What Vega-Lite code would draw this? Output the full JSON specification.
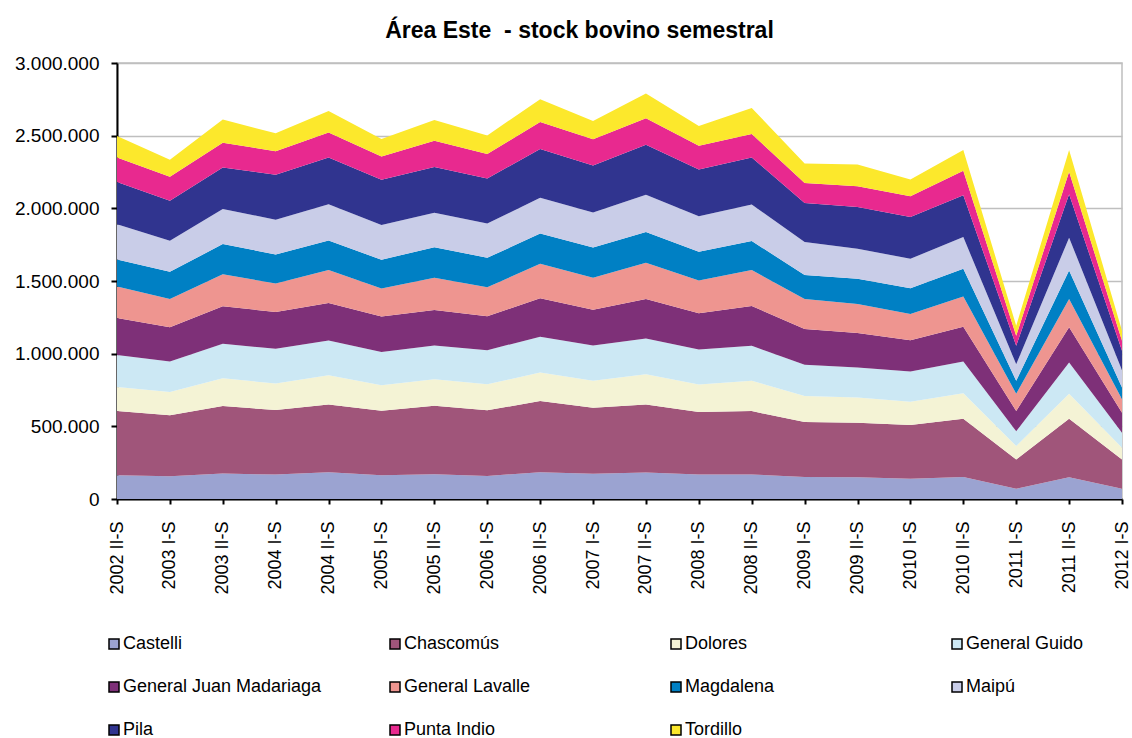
{
  "$schema": "https://vega.github.io/schema/vega-lite/v6.json",
  "autosize": {"type": "none"},
  "width": 1005,
  "height": 436,
  "padding": {"left": 117, "top": 63, "right": 10, "bottom": 239},
  "background": "white",
  "title": {
    "text": "Área Este \u00a0- stock bovino semestral",
    "font": "Liberation Sans",
    "fontSize": 23,
    "fontWeight": "bold",
    "color": "black",
    "anchor": "middle",
    "frame": "group",
    "dx": -40,
    "baseline": "alphabetic",
    "offset": -7
  },
  "config": {
    "locale": {"number": {"decimal": ",", "thousands": ".", "grouping": [3], "currency": ["$", ""]}},
    "view": {"stroke": "#BFBFBF", "strokeWidth": 1.5},
    "font": "Liberation Sans"
  },
  "data": {
    "values": [
      {"s":"2002 II-S","d":"Castelli","v":163000},{"s":"2002 II-S","d":"Chascomús","v":442000},{"s":"2002 II-S","d":"Dolores","v":166000},{"s":"2002 II-S","d":"General Guido","v":219000},{"s":"2002 II-S","d":"General Juan Madariaga","v":255000},{"s":"2002 II-S","d":"General Lavalle","v":217000},{"s":"2002 II-S","d":"Magdalena","v":186000},{"s":"2002 II-S","d":"Maipú","v":242000},{"s":"2002 II-S","d":"Pila","v":292000},{"s":"2002 II-S","d":"Punta Indio","v":168000},{"s":"2002 II-S","d":"Tordillo","v":148000},
      {"s":"2003 I-S","d":"Castelli","v":157000},{"s":"2003 I-S","d":"Chascomús","v":419000},{"s":"2003 I-S","d":"Dolores","v":161000},{"s":"2003 I-S","d":"General Guido","v":209000},{"s":"2003 I-S","d":"General Juan Madariaga","v":235000},{"s":"2003 I-S","d":"General Lavalle","v":196000},{"s":"2003 I-S","d":"Magdalena","v":186000},{"s":"2003 I-S","d":"Maipú","v":214000},{"s":"2003 I-S","d":"Pila","v":276000},{"s":"2003 I-S","d":"Punta Indio","v":164000},{"s":"2003 I-S","d":"Tordillo","v":117000},
      {"s":"2003 II-S","d":"Castelli","v":175000},{"s":"2003 II-S","d":"Chascomús","v":465000},{"s":"2003 II-S","d":"Dolores","v":191000},{"s":"2003 II-S","d":"General Guido","v":237000},{"s":"2003 II-S","d":"General Juan Madariaga","v":258000},{"s":"2003 II-S","d":"General Lavalle","v":221000},{"s":"2003 II-S","d":"Magdalena","v":207000},{"s":"2003 II-S","d":"Maipú","v":242000},{"s":"2003 II-S","d":"Pila","v":285000},{"s":"2003 II-S","d":"Punta Indio","v":171000},{"s":"2003 II-S","d":"Tordillo","v":159000},
      {"s":"2004 I-S","d":"Castelli","v":168000},{"s":"2004 I-S","d":"Chascomús","v":444000},{"s":"2004 I-S","d":"Dolores","v":182000},{"s":"2004 I-S","d":"General Guido","v":240000},{"s":"2004 I-S","d":"General Juan Madariaga","v":253000},{"s":"2004 I-S","d":"General Lavalle","v":196000},{"s":"2004 I-S","d":"Magdalena","v":200000},{"s":"2004 I-S","d":"Maipú","v":239000},{"s":"2004 I-S","d":"Pila","v":309000},{"s":"2004 I-S","d":"Punta Indio","v":161000},{"s":"2004 I-S","d":"Tordillo","v":124000},
      {"s":"2004 II-S","d":"Castelli","v":184000},{"s":"2004 II-S","d":"Chascomús","v":467000},{"s":"2004 II-S","d":"Dolores","v":201000},{"s":"2004 II-S","d":"General Guido","v":239000},{"s":"2004 II-S","d":"General Juan Madariaga","v":258000},{"s":"2004 II-S","d":"General Lavalle","v":226000},{"s":"2004 II-S","d":"Magdalena","v":204000},{"s":"2004 II-S","d":"Maipú","v":249000},{"s":"2004 II-S","d":"Pila","v":322000},{"s":"2004 II-S","d":"Punta Indio","v":171000},{"s":"2004 II-S","d":"Tordillo","v":149000},
      {"s":"2005 I-S","d":"Castelli","v":163000},{"s":"2005 I-S","d":"Chascomús","v":445000},{"s":"2005 I-S","d":"Dolores","v":175000},{"s":"2005 I-S","d":"General Guido","v":228000},{"s":"2005 I-S","d":"General Juan Madariaga","v":244000},{"s":"2005 I-S","d":"General Lavalle","v":193000},{"s":"2005 I-S","d":"Magdalena","v":198000},{"s":"2005 I-S","d":"Maipú","v":239000},{"s":"2005 I-S","d":"Pila","v":311000},{"s":"2005 I-S","d":"Punta Indio","v":161000},{"s":"2005 I-S","d":"Tordillo","v":120000},
      {"s":"2005 II-S","d":"Castelli","v":170000},{"s":"2005 II-S","d":"Chascomús","v":472000},{"s":"2005 II-S","d":"Dolores","v":182000},{"s":"2005 II-S","d":"General Guido","v":233000},{"s":"2005 II-S","d":"General Juan Madariaga","v":244000},{"s":"2005 II-S","d":"General Lavalle","v":221000},{"s":"2005 II-S","d":"Magdalena","v":211000},{"s":"2005 II-S","d":"Maipú","v":237000},{"s":"2005 II-S","d":"Pila","v":314000},{"s":"2005 II-S","d":"Punta Indio","v":181000},{"s":"2005 II-S","d":"Tordillo","v":143000},
      {"s":"2006 I-S","d":"Castelli","v":159000},{"s":"2006 I-S","d":"Chascomús","v":451000},{"s":"2006 I-S","d":"Dolores","v":180000},{"s":"2006 I-S","d":"General Guido","v":234000},{"s":"2006 I-S","d":"General Juan Madariaga","v":233000},{"s":"2006 I-S","d":"General Lavalle","v":200000},{"s":"2006 I-S","d":"Magdalena","v":203000},{"s":"2006 I-S","d":"Maipú","v":235000},{"s":"2006 I-S","d":"Pila","v":310000},{"s":"2006 I-S","d":"Punta Indio","v":168000},{"s":"2006 I-S","d":"Tordillo","v":129000},
      {"s":"2006 II-S","d":"Castelli","v":184000},{"s":"2006 II-S","d":"Chascomús","v":490000},{"s":"2006 II-S","d":"Dolores","v":196000},{"s":"2006 II-S","d":"General Guido","v":247000},{"s":"2006 II-S","d":"General Juan Madariaga","v":264000},{"s":"2006 II-S","d":"General Lavalle","v":237000},{"s":"2006 II-S","d":"Magdalena","v":208000},{"s":"2006 II-S","d":"Maipú","v":246000},{"s":"2006 II-S","d":"Pila","v":336000},{"s":"2006 II-S","d":"Punta Indio","v":186000},{"s":"2006 II-S","d":"Tordillo","v":157000},
      {"s":"2007 I-S","d":"Castelli","v":173000},{"s":"2007 I-S","d":"Chascomús","v":455000},{"s":"2007 I-S","d":"Dolores","v":185000},{"s":"2007 I-S","d":"General Guido","v":244000},{"s":"2007 I-S","d":"General Juan Madariaga","v":246000},{"s":"2007 I-S","d":"General Lavalle","v":219000},{"s":"2007 I-S","d":"Magdalena","v":209000},{"s":"2007 I-S","d":"Maipú","v":240000},{"s":"2007 I-S","d":"Pila","v":324000},{"s":"2007 I-S","d":"Punta Indio","v":180000},{"s":"2007 I-S","d":"Tordillo","v":126000},
      {"s":"2007 II-S","d":"Castelli","v":182000},{"s":"2007 II-S","d":"Chascomús","v":469000},{"s":"2007 II-S","d":"Dolores","v":208000},{"s":"2007 II-S","d":"General Guido","v":246000},{"s":"2007 II-S","d":"General Juan Madariaga","v":272000},{"s":"2007 II-S","d":"General Lavalle","v":248000},{"s":"2007 II-S","d":"Magdalena","v":212000},{"s":"2007 II-S","d":"Maipú","v":256000},{"s":"2007 II-S","d":"Pila","v":345000},{"s":"2007 II-S","d":"Punta Indio","v":182000},{"s":"2007 II-S","d":"Tordillo","v":170000},
      {"s":"2008 I-S","d":"Castelli","v":168000},{"s":"2008 I-S","d":"Chascomús","v":431000},{"s":"2008 I-S","d":"Dolores","v":188000},{"s":"2008 I-S","d":"General Guido","v":242000},{"s":"2008 I-S","d":"General Juan Madariaga","v":249000},{"s":"2008 I-S","d":"General Lavalle","v":225000},{"s":"2008 I-S","d":"Magdalena","v":198000},{"s":"2008 I-S","d":"Maipú","v":244000},{"s":"2008 I-S","d":"Pila","v":322000},{"s":"2008 I-S","d":"Punta Indio","v":164000},{"s":"2008 I-S","d":"Tordillo","v":136000},
      {"s":"2008 II-S","d":"Castelli","v":168000},{"s":"2008 II-S","d":"Chascomús","v":437000},{"s":"2008 II-S","d":"Dolores","v":208000},{"s":"2008 II-S","d":"General Guido","v":241000},{"s":"2008 II-S","d":"General Juan Madariaga","v":274000},{"s":"2008 II-S","d":"General Lavalle","v":247000},{"s":"2008 II-S","d":"Magdalena","v":200000},{"s":"2008 II-S","d":"Maipú","v":251000},{"s":"2008 II-S","d":"Pila","v":324000},{"s":"2008 II-S","d":"Punta Indio","v":162000},{"s":"2008 II-S","d":"Tordillo","v":179000},
      {"s":"2009 I-S","d":"Castelli","v":152000},{"s":"2009 I-S","d":"Chascomús","v":377000},{"s":"2009 I-S","d":"Dolores","v":180000},{"s":"2009 I-S","d":"General Guido","v":214000},{"s":"2009 I-S","d":"General Juan Madariaga","v":246000},{"s":"2009 I-S","d":"General Lavalle","v":208000},{"s":"2009 I-S","d":"Magdalena","v":165000},{"s":"2009 I-S","d":"Maipú","v":226000},{"s":"2009 I-S","d":"Pila","v":269000},{"s":"2009 I-S","d":"Punta Indio","v":138000},{"s":"2009 I-S","d":"Tordillo","v":134000},
      {"s":"2009 II-S","d":"Castelli","v":150000},{"s":"2009 II-S","d":"Chascomús","v":375000},{"s":"2009 II-S","d":"Dolores","v":173000},{"s":"2009 II-S","d":"General Guido","v":207000},{"s":"2009 II-S","d":"General Juan Madariaga","v":237000},{"s":"2009 II-S","d":"General Lavalle","v":200000},{"s":"2009 II-S","d":"Magdalena","v":173000},{"s":"2009 II-S","d":"Maipú","v":207000},{"s":"2009 II-S","d":"Pila","v":288000},{"s":"2009 II-S","d":"Punta Indio","v":142000},{"s":"2009 II-S","d":"Tordillo","v":150000},
      {"s":"2010 I-S","d":"Castelli","v":140000},{"s":"2010 I-S","d":"Chascomús","v":369000},{"s":"2010 I-S","d":"Dolores","v":161000},{"s":"2010 I-S","d":"General Guido","v":207000},{"s":"2010 I-S","d":"General Juan Madariaga","v":216000},{"s":"2010 I-S","d":"General Lavalle","v":180000},{"s":"2010 I-S","d":"Magdalena","v":177000},{"s":"2010 I-S","d":"Maipú","v":203000},{"s":"2010 I-S","d":"Pila","v":288000},{"s":"2010 I-S","d":"Punta Indio","v":142000},{"s":"2010 I-S","d":"Tordillo","v":115000},
      {"s":"2010 II-S","d":"Castelli","v":152000},{"s":"2010 II-S","d":"Chascomús","v":400000},{"s":"2010 II-S","d":"Dolores","v":175000},{"s":"2010 II-S","d":"General Guido","v":219000},{"s":"2010 II-S","d":"General Juan Madariaga","v":240000},{"s":"2010 II-S","d":"General Lavalle","v":207000},{"s":"2010 II-S","d":"Magdalena","v":191000},{"s":"2010 II-S","d":"Maipú","v":218000},{"s":"2010 II-S","d":"Pila","v":288000},{"s":"2010 II-S","d":"Punta Indio","v":168000},{"s":"2010 II-S","d":"Tordillo","v":143000},
      {"s":"2011 I-S","d":"Castelli","v":71000},{"s":"2011 I-S","d":"Chascomús","v":201000},{"s":"2011 I-S","d":"Dolores","v":92000},{"s":"2011 I-S","d":"General Guido","v":103000},{"s":"2011 I-S","d":"General Juan Madariaga","v":138000},{"s":"2011 I-S","d":"General Lavalle","v":120000},{"s":"2011 I-S","d":"Magdalena","v":88000},{"s":"2011 I-S","d":"Maipú","v":115000},{"s":"2011 I-S","d":"Pila","v":126000},{"s":"2011 I-S","d":"Punta Indio","v":69000},{"s":"2011 I-S","d":"Tordillo","v":69000},
      {"s":"2011 II-S","d":"Castelli","v":150000},{"s":"2011 II-S","d":"Chascomús","v":402000},{"s":"2011 II-S","d":"Dolores","v":173000},{"s":"2011 II-S","d":"General Guido","v":214000},{"s":"2011 II-S","d":"General Juan Madariaga","v":242000},{"s":"2011 II-S","d":"General Lavalle","v":196000},{"s":"2011 II-S","d":"Magdalena","v":195000},{"s":"2011 II-S","d":"Maipú","v":226000},{"s":"2011 II-S","d":"Pila","v":299000},{"s":"2011 II-S","d":"Punta Indio","v":154000},{"s":"2011 II-S","d":"Tordillo","v":150000},
      {"s":"2012 I-S","d":"Castelli","v":71000},{"s":"2012 I-S","d":"Chascomús","v":201000},{"s":"2012 I-S","d":"Dolores","v":80000},{"s":"2012 I-S","d":"General Guido","v":104000},{"s":"2012 I-S","d":"General Juan Madariaga","v":138000},{"s":"2012 I-S","d":"General Lavalle","v":92000},{"s":"2012 I-S","d":"Magdalena","v":81000},{"s":"2012 I-S","d":"Maipú","v":119000},{"s":"2012 I-S","d":"Pila","v":134000},{"s":"2012 I-S","d":"Punta Indio","v":69000},{"s":"2012 I-S","d":"Tordillo","v":69000}
    ]
  },
  "mark": {"type": "area", "interpolate": "linear", "opacity": 1},
  "encoding": {
    "x": {
      "field": "s",
      "type": "ordinal",
      "sort": null,
      "scale": {"type": "point", "padding": 0},
      "axis": {
        "title": null,
        "labelAngle": -90,
        "labelFont": "Liberation Sans",
        "labelFontSize": 18,
        "labelColor": "black",
        "labelPadding": 17,
        "domainColor": "black",
        "domainWidth": 2,
        "tickColor": "black",
        "tickWidth": 2,
        "tickSize": 5,
        "grid": false
      }
    },
    "y": {
      "field": "v",
      "type": "quantitative",
      "stack": "zero",
      "scale": {"domain": [0, 3000000], "nice": false},
      "axis": {
        "title": null,
        "values": [0, 500000, 1000000, 1500000, 2000000, 2500000, 3000000],
        "format": ",.0f",
        "labelFont": "Liberation Sans",
        "labelFontSize": 19,
        "labelColor": "black",
        "labelPadding": 12,
        "domainColor": "black",
        "domainWidth": 2,
        "tickColor": "black",
        "tickWidth": 2,
        "tickSize": 6,
        "grid": true,
        "gridColor": "#BFBFBF",
        "gridWidth": 1.5
      }
    },
    "color": {
      "field": "d",
      "type": "nominal",
      "scale": {
        "domain": ["Castelli", "Chascomús", "Dolores", "General Guido", "General Juan Madariaga", "General Lavalle", "Magdalena", "Maipú", "Pila", "Punta Indio", "Tordillo"],
        "range": ["#9BA3D1", "#A0557A", "#F4F3D5", "#CCE8F4", "#7E3078", "#EE9590", "#0080C4", "#C9CDE8", "#30348F", "#E8298F", "#FCE82C"]
      },
      "legend": {
        "title": null,
        "orient": "none",
        "direction": "horizontal",
        "legendX": -12,
        "legendY": 572,
        "columns": 4,
        "gridAlign": "all",
        "columnPadding": 64,
        "rowPadding": 25,
        "symbolType": "square",
        "symbolSize": 100,
        "symbolStrokeColor": "black",
        "symbolStrokeWidth": 1.5,
        "symbolOpacity": 1,
        "labelFont": "Liberation Sans",
        "labelFontSize": 18,
        "labelColor": "black",
        "labelOffset": 0,
        "labelLimit": 400
      }
    },
    "order": {"field": "d", "sort": "ascending"}
  }
}
